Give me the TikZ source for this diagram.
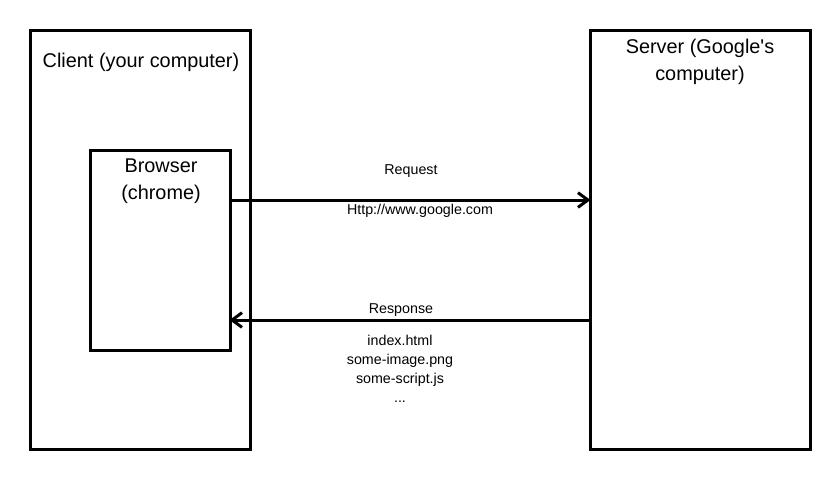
\documentclass[tikz,border=0pt]{standalone}
\usepackage{fontspec}
\setmainfont{Liberation Sans}
\usetikzlibrary{arrows.meta}
\begin{document}
\begin{tikzpicture}[x=0.75pt,y=-0.75pt,
		box/.style={draw,line width=2.25pt,inner sep=0pt},
		big/.style={font=\fontsize{14.9}{20}\selectfont,align=center,inner sep=0pt},
		small/.style={font=\fontsize{10.7}{14.25}\selectfont,align=center,inner sep=0pt},
		arr/.style={line width=2.25pt,shorten >=-1.5pt,-{Straight Barb[length=7.5pt,width=11pt,line width=2.25pt]}}]
	\useasboundingbox (0,0) rectangle (840,480);
	% boxes
	\node[box,minimum width=165pt,minimum height=314.25pt] (client) at (140,239.5) {};
	\node[box,minimum width=105pt,minimum height=150pt] (browser) at (160,250) {};
	\node[box,minimum width=165pt,minimum height=314.25pt] (server) at (700,239.5) {};
	% titles
	\node[big,anchor=base] (clienttxt) at (141,67) {Client (your computer)};
	\node[big,anchor=north] (browsertxt) at (161,159) {Browser\\(chrome)};
	\node[big,anchor=north] (servertxt) at (700,39) {Server (Google\textquotesingle s\\computer)};
	% messages
	\coordinate (req) at (0,200);
	\coordinate (res) at (0,320);
	\draw[arr] (browser.east |- req) -- (server.west |- req);
	\draw[arr] (server.west |- res) -- (browser.east |- res);
	\node[small,anchor=base] (reqtxt) at (411,174) {Request};
	\node[small,anchor=base] (urltxt) at (420,214) {Http://www.google.com};
	\node[small,anchor=base] (restxt) at (401,313) {Response};
	\node[small,anchor=north] (files) at (400,335) {index.html\\some-image.png\\some-script.js\\...};
\end{tikzpicture}
\end{document}
